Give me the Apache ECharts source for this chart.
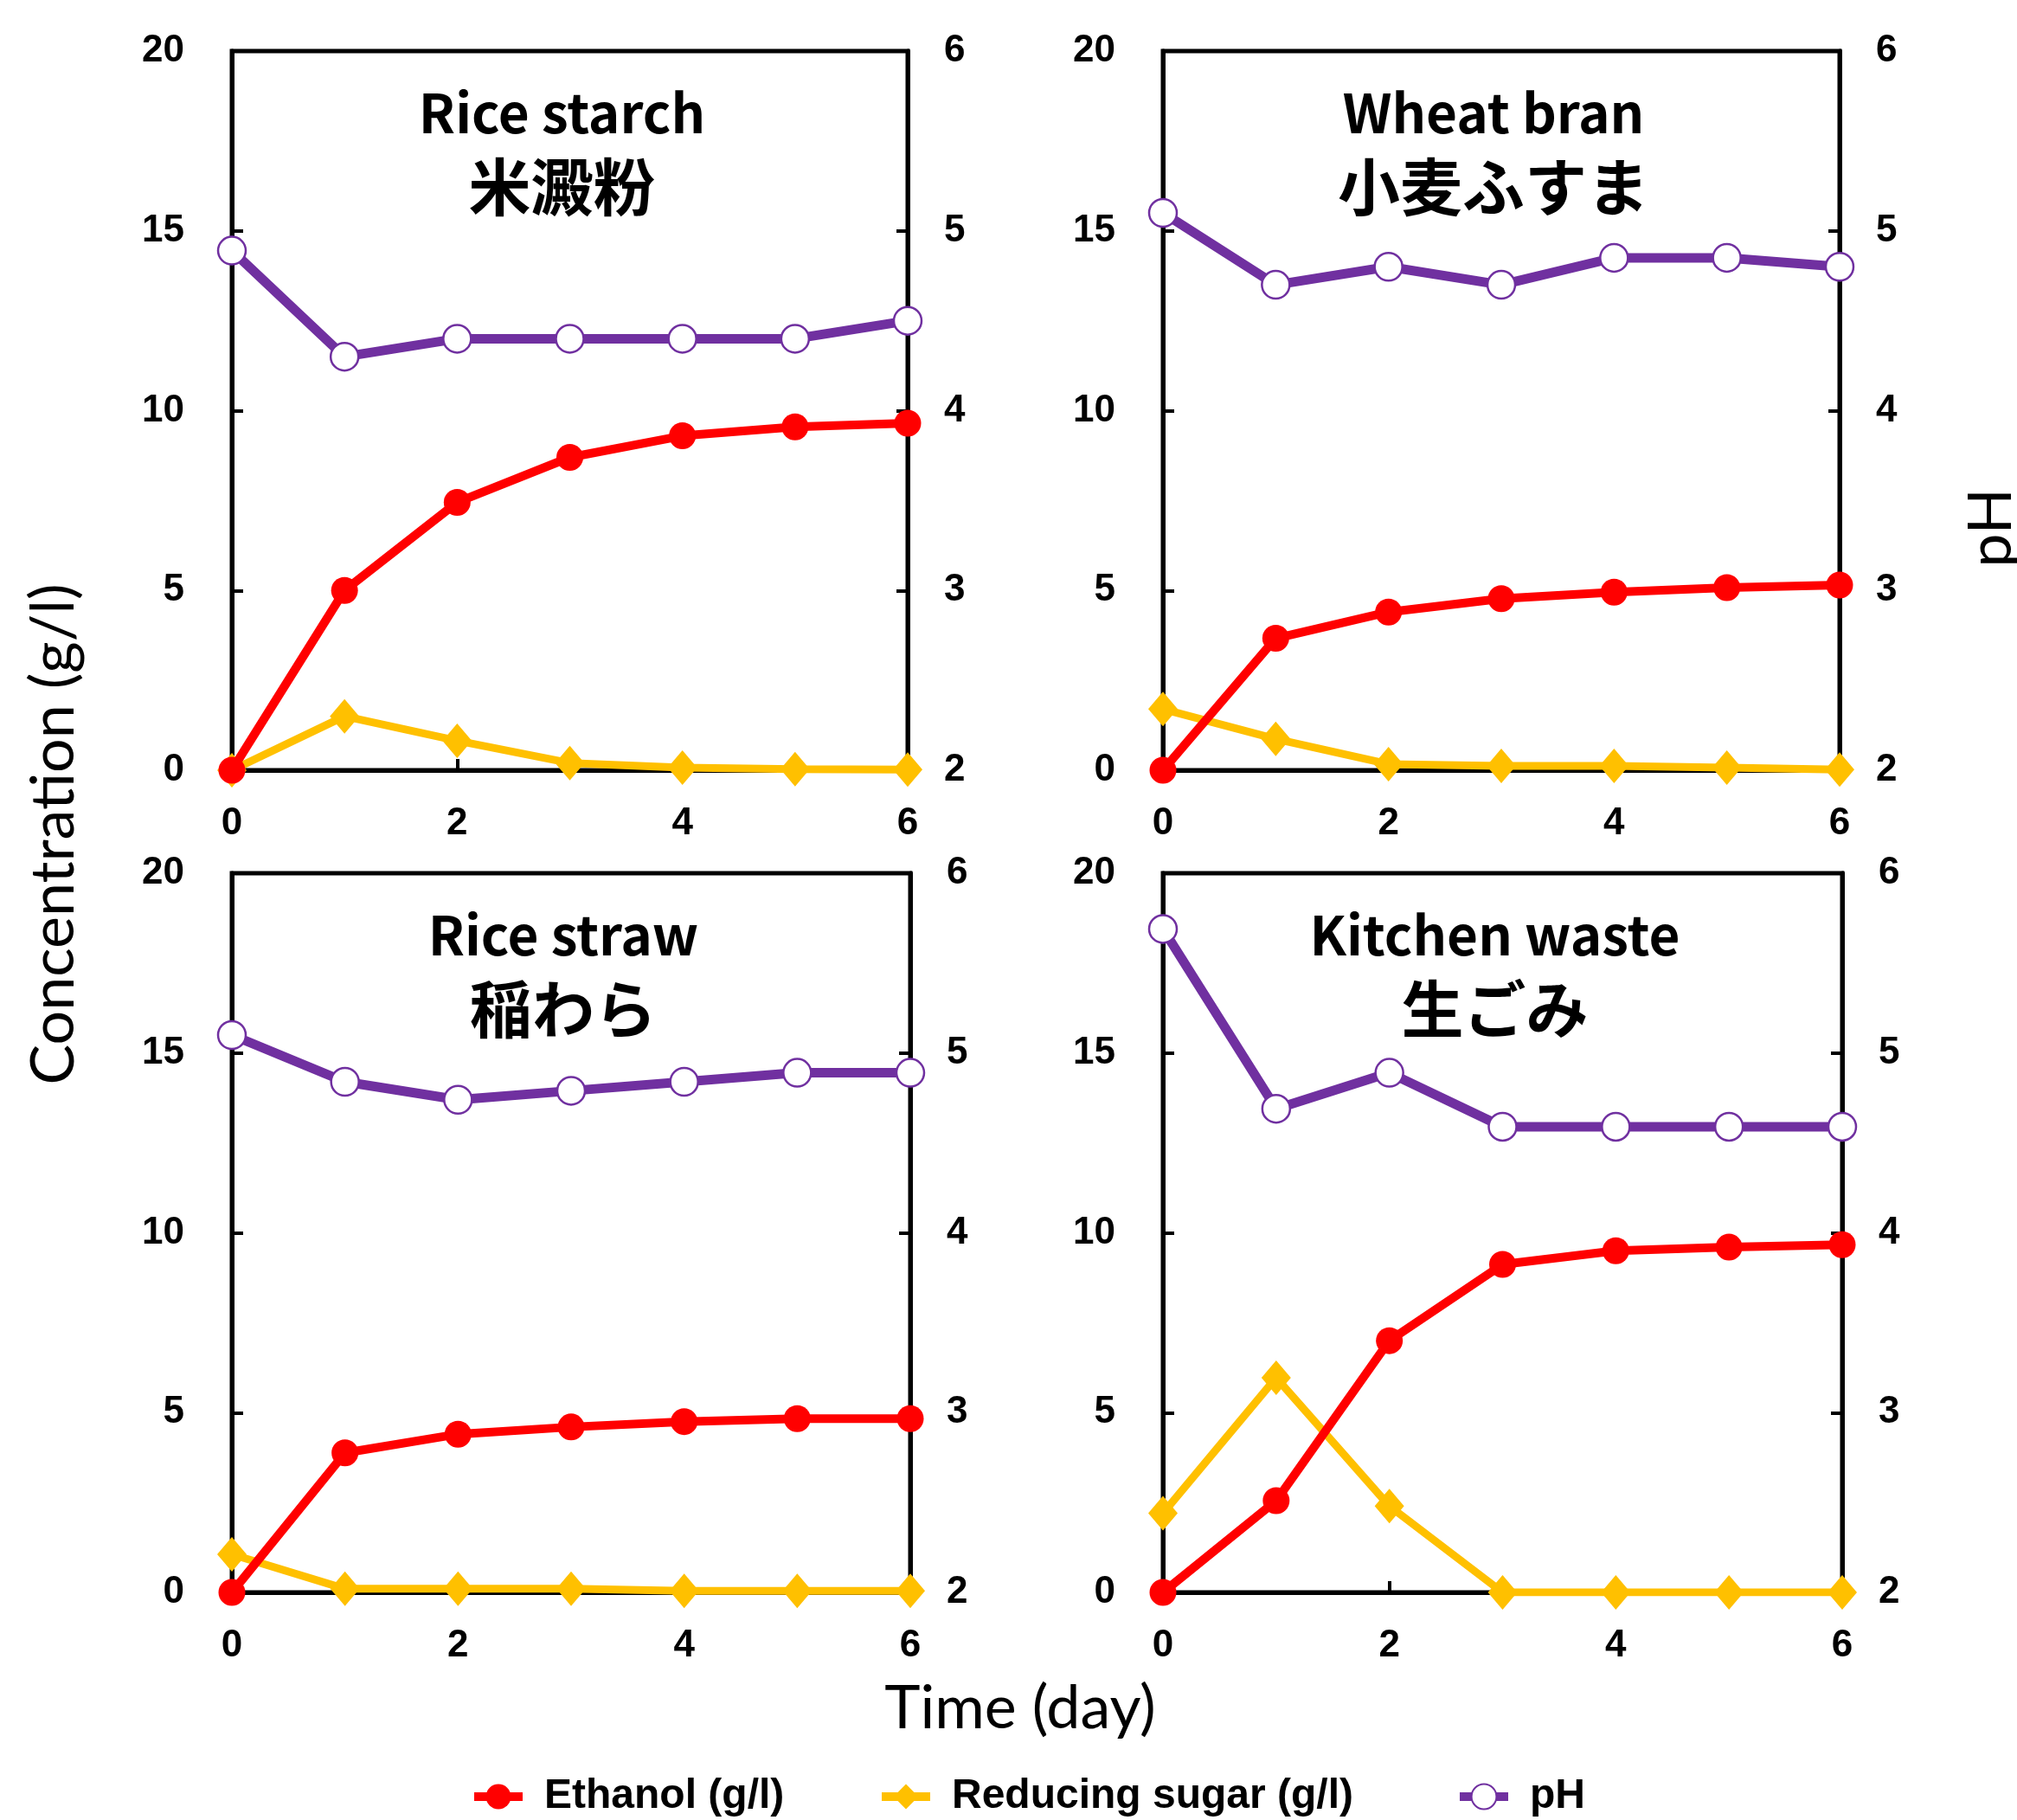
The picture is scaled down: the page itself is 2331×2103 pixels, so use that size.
<!DOCTYPE html>
<html>
<head>
<meta charset="utf-8">
<script src="https://cdn.jsdelivr.net/npm/echarts@6/dist/echarts.min.js"></script>
<style>
html,body{margin:0;padding:0;background:#fff;}
#chart{width:2331px;height:2103px;}
</style>
</head>
<body>
<div id="chart"></div>
<script>
// ---- data ----
const days = [0, 1, 2, 3, 4, 5, 6];
const panelTitlesEn = ['Rice starch', 'Wheat bran', 'Rice straw', 'Kitchen waste'];
const panelTitlesJa = ['米澱粉', '小麦ふすま', '稲わら', '生ごみ'];
const concTicks = [0, 5, 10, 15, 20];
const phTicks = [2, 3, 4, 5, 6];
const dayTicks = [0, 2, 4, 6];

const riceStarchEthanol = [0, 5.0, 7.45, 8.7, 9.3, 9.55, 9.65];
const riceStarchSugar   = [0, 1.5, 0.82, 0.2, 0.07, 0.03, 0.02];
const riceStarchPH      = [4.89, 4.3, 4.4, 4.4, 4.4, 4.4, 4.5];

const wheatBranEthanol = [0, 3.67, 4.4, 4.77, 4.95, 5.08, 5.15];
const wheatBranSugar   = [1.7, 0.87, 0.17, 0.12, 0.12, 0.07, 0.02];
const wheatBranPH      = [5.1, 4.7, 4.8, 4.7, 4.85, 4.85, 4.8];

const riceStrawEthanol = [0, 3.88, 4.4, 4.6, 4.75, 4.83, 4.83];
const riceStrawSugar   = [1.06, 0.1, 0.1, 0.1, 0.04, 0.04, 0.04];
const riceStrawPH      = [5.1, 4.84, 4.74, 4.79, 4.84, 4.89, 4.89];

const kitchenWasteEthanol = [0, 2.55, 7.0, 9.12, 9.5, 9.6, 9.67];
const kitchenWasteSugar   = [2.2, 5.97, 2.4, 0, 0, 0, 0];
const kitchenWastePH      = [5.69, 4.69, 4.89, 4.59, 4.59, 4.59, 4.59];

const seriesNames = ['Ethanol (g/l)', 'Reducing sugar (g/l)', 'pH'];

// ---- layout ----
const panels = [
  {left: 268, top: 59, width: 781, height: 831, eth: riceStarchEthanol, sug: riceStarchSugar, ph: riceStarchPH},
  {left: 1344, top: 59, width: 782, height: 831, eth: wheatBranEthanol, sug: wheatBranSugar, ph: wheatBranPH},
  {left: 268, top: 1009, width: 784, height: 831, eth: riceStrawEthanol, sug: riceStrawSugar, ph: riceStrawPH},
  {left: 1344, top: 1009, width: 785, height: 831, eth: kitchenWasteEthanol, sug: kitchenWasteSugar, ph: kitchenWastePH}
];

const RED = '#FF0000', YEL = '#FFC000', PUR = '#7030A0';
const tickFont = {color: '#000', fontFamily: '"Liberation Sans", Arial, sans-serif', fontWeight: 'bold', fontSize: 44};

const grid = [], xAxis = [], yAxis = [], series = [], graphic = [];
const pair = (arr) => days.map((d, i) => [d, arr[i]]);

panels.forEach((p, k) => {
  grid.push({left: p.left, top: p.top, width: p.width, height: p.height, show: true,
    borderColor: '#000', borderWidth: 5, backgroundColor: 'transparent', containLabel: false});
  xAxis.push({type: 'value', gridIndex: k, min: 0, max: 6, interval: 2,
    axisLine: {show: true, onZero: false, lineStyle: {color: '#000', width: 5}},
    axisTick: {show: true, inside: true, length: 13, lineStyle: {color: '#000', width: 4}},
    axisLabel: Object.assign({margin: 40, formatter: (v) => dayTicks.includes(v) ? String(v) : ''}, tickFont),
    splitLine: {show: false}});
  yAxis.push({type: 'value', gridIndex: k, min: 0, max: 20, interval: 5, position: 'left',
    axisLine: {show: true, onZero: false, lineStyle: {color: '#000', width: 5}},
    axisTick: {show: true, inside: true, length: 13, lineStyle: {color: '#000', width: 4}},
    axisLabel: Object.assign({margin: 55, formatter: (v) => concTicks.includes(v) ? String(v) : ''}, tickFont),
    splitLine: {show: false}});
  yAxis.push({type: 'value', gridIndex: k, min: 2, max: 6, interval: 1, position: 'right',
    axisLine: {show: true, onZero: false, lineStyle: {color: '#000', width: 5}},
    axisTick: {show: true, inside: true, length: 13, lineStyle: {color: '#000', width: 4}},
    axisLabel: Object.assign({margin: 42, formatter: (v) => phTicks.includes(v) ? String(v) : ''}, tickFont),
    splitLine: {show: false}});

  series.push({name: seriesNames[1], type: 'line', xAxisIndex: k, yAxisIndex: 2 * k, z: 2,
    data: pair(p.sug), symbol: 'diamond', symbolSize: [34, 40],
    lineStyle: {color: YEL, width: 9}, itemStyle: {color: YEL}, animation: false});
  series.push({name: seriesNames[0], type: 'line', xAxisIndex: k, yAxisIndex: 2 * k, z: 3,
    data: pair(p.eth), symbol: 'circle', symbolSize: 31,
    lineStyle: {color: RED, width: 10}, itemStyle: {color: RED}, animation: false});
  series.push({name: seriesNames[2], type: 'line', xAxisIndex: k, yAxisIndex: 2 * k + 1, z: 4,
    data: pair(p.ph), symbol: 'circle', symbolSize: 32,
    lineStyle: {color: PUR, width: 11}, itemStyle: {color: '#fff', borderColor: PUR, borderWidth: 2.5}, animation: false});

  const cx = p.left + p.width / 2 - 9;
  const cy = p.top + 71;
  graphic.push({type: 'text', x: cx, y: cy, z: 10, style: {text: panelTitlesEn[k], textAlign: 'center', textVerticalAlign: 'middle',
    font: 'bold 62px "Noto Sans CJK JP", "Noto Sans", sans-serif', fill: '#000'}});
  graphic.push({type: 'text', x: cx, y: cy + 86, z: 10, style: {text: panelTitlesJa[k], textAlign: 'center', textVerticalAlign: 'middle',
    font: 'bold 72px "Noto Sans CJK JP", sans-serif', fill: '#000'}});
});

graphic.push({type: 'text', x: 62, y: 964, rotation: Math.PI / 2, style: {text: 'Concentration (g/l)', textAlign: 'center', textVerticalAlign: 'middle',
  font: '70px Lato, "Open Sans", sans-serif', fill: '#000'}});
graphic.push({type: 'text', x: 2301, y: 610, rotation: Math.PI / 2, style: {text: 'pH', textAlign: 'center', textVerticalAlign: 'middle',
  font: '70px Lato, "Open Sans", sans-serif', fill: '#000'}});
graphic.push({type: 'text', x: 1179, y: 1974, style: {text: 'Time (day)', textAlign: 'center', textVerticalAlign: 'middle',
  font: '70px Lato, "Open Sans", sans-serif', fill: '#000'}});

const legendLefts = [543, 1014, 1682];
const legend = seriesNames.map((n, i) => ({
  data: [n], left: legendLefts[i], top: 2052, padding: 0, itemWidth: 56, itemHeight: 36,
  lineStyle: {width: 10},
  textStyle: {color: '#000', fontFamily: '"Liberation Sans", Arial, sans-serif', fontWeight: 'bold', fontSize: 48, padding: [0, 0, 0, 20]}
}));

const chart = echarts.init(document.getElementById('chart'), null, {renderer: 'canvas'});
chart.setOption({
  backgroundColor: '#fff',
  animation: false,
  grid, xAxis, yAxis, series, legend, graphic
});
</script>
</body>
</html>
